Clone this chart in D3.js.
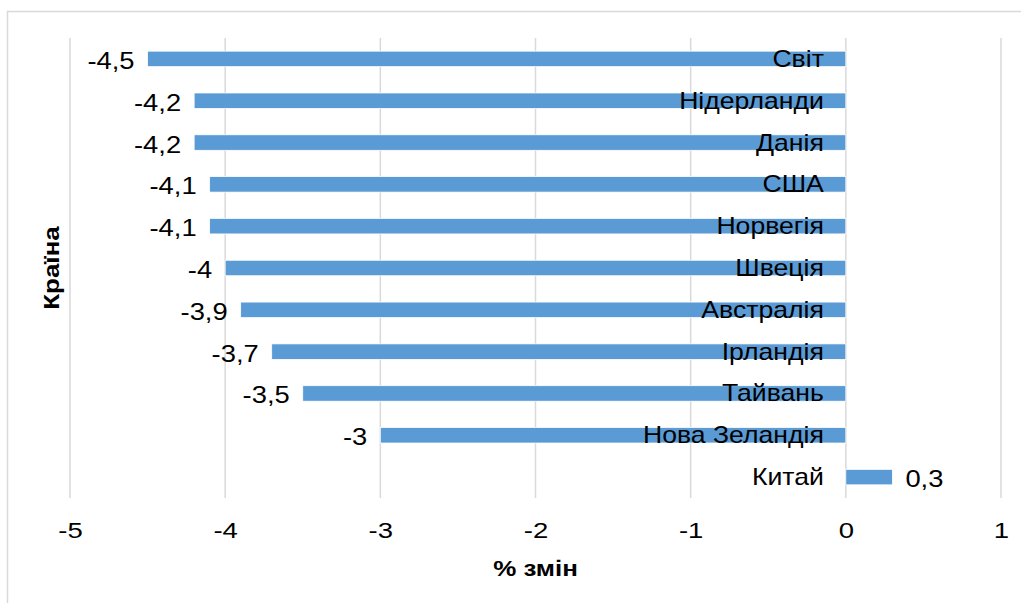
<!DOCTYPE html>
<html>
<head>
<meta charset="utf-8">
<script src="https://cdn.jsdelivr.net/npm/d3@7"></script>
<style>
  html, body { margin: 0; padding: 0; background: #fff; }
  svg { display: block; }
  text { font-family: "Liberation Sans", Arial, sans-serif; fill: #000; }
</style>
</head>
<body>
<svg id="chart" width="1021" height="603"></svg>
<script>
const categories = ["Світ", "Нідерланди", "Данія", "США", "Норвегія", "Швеція", "Австралія", "Ірландія", "Тайвань", "Нова Зеландія", "Китай"];
const values = [-4.5, -4.2, -4.2, -4.1, -4.1, -4.0, -3.9, -3.7, -3.5, -3.0, 0.3];
const valueLabels = ["-4,5", "-4,2", "-4,2", "-4,1", "-4,1", "-4", "-3,9", "-3,7", "-3,5", "-3", "0,3"];
const xTicks = [-5, -4, -3, -2, -1, 0, 1];
const xTickLabels = ["-5", "-4", "-3", "-2", "-1", "0", "1"];
const xTitle = "% змін";
const yTitle = "Країна";

const svg = d3.select("#chart");
const W = 1021, H = 603;
const plot = { left: 70, right: 1001, top: 38, bottom: 498 };
const FS = 23;          // font size
const SX_CAT = 1.157;   // horizontal glyph stretch for category labels
const SX_NUM = 1.19;    // horizontal glyph stretch for numbers
const FS_TICK = 22;
const SX_TICK = 1.25;
const SX_BOLD = 1.18;   // stretch for bold titles

// chart frame
svg.append("rect")
  .attr("x", 7.5).attr("y", 11.5)
  .attr("width", W + 20).attr("height", H + 20)
  .attr("fill", "#fff").attr("stroke", "#d9d9d9").attr("stroke-width", 1.5);

const x = d3.scaleLinear().domain([-5, 1]).range([plot.left, plot.right]);
const y = d3.scaleBand().domain(categories).range([plot.top, plot.bottom]).padding(0);
const barH = y.bandwidth() * 0.37;

// gridlines
svg.append("g").selectAll("line").data(xTicks).join("line")
  .attr("x1", d => x(d)).attr("x2", d => x(d))
  .attr("y1", plot.top).attr("y2", plot.bottom)
  .attr("stroke", "#d9d9d9").attr("stroke-width", 1.5);

// x-axis tick labels via d3 axis
const xAxis = d3.axisBottom(x).tickValues(xTicks)
  .tickFormat((d, i) => xTickLabels[i]).tickSize(0).tickPadding(0);
const gx = svg.append("g").attr("transform", `translate(0,${plot.bottom + 40})`).call(xAxis);
gx.select(".domain").remove();
gx.selectAll("text")
  .attr("font-family", "Liberation Sans, Arial, sans-serif")
  .attr("font-size", FS_TICK).attr("fill", "#000").attr("dy", 0).attr("y", 0)
  .attr("transform", `scale(${SX_TICK},1)`);

// bars
const data = categories.map((c, i) => ({ c, v: values[i], l: valueLabels[i] }));
svg.append("g").selectAll("rect").data(data).join("rect")
  .attr("x", d => Math.min(x(0), x(d.v)))
  .attr("width", d => Math.abs(x(d.v) - x(0)))
  .attr("y", d => y(d.c) + (y.bandwidth() - barH) / 2)
  .attr("height", barH)
  .attr("fill", "#5b9bd5").attr("stroke", "#ffffff").attr("stroke-width", 0.75);

const catOff = 8;   // baseline below band centre (category labels)
const valOff = 10;  // baseline below band centre (value labels)

// category labels (right-aligned near zero)
svg.append("g").selectAll("text").data(data).join("text")
  .attr("transform", d => `translate(${x(0) - 22},${y(d.c) + y.bandwidth() / 2 + catOff}) scale(${SX_CAT},1)`)
  .attr("text-anchor", "end")
  .attr("font-size", FS)
  .text(d => d.c);

// value labels
svg.append("g").selectAll("text").data(data).join("text")
  .attr("transform", d => `translate(${d.v < 0 ? x(d.v) - 13 : x(d.v) + 13},${y(d.c) + y.bandwidth() / 2 + valOff}) scale(${SX_NUM},1)`)
  .attr("text-anchor", d => d.v < 0 ? "end" : "start")
  .attr("font-size", FS)
  .text(d => d.l);

// axis titles
svg.append("text")
  .attr("transform", `translate(${(plot.left + plot.right) / 2},576) scale(${SX_BOLD},1)`)
  .attr("text-anchor", "middle").attr("font-size", 22).attr("font-weight", "bold")
  .text(xTitle);

svg.append("text")
  .attr("transform", `translate(59,${(plot.top + plot.bottom) / 2}) rotate(-90) scale(${SX_BOLD},1)`)
  .attr("text-anchor", "middle").attr("font-size", 22).attr("font-weight", "bold")
  .text(yTitle);
</script>
</body>
</html>
